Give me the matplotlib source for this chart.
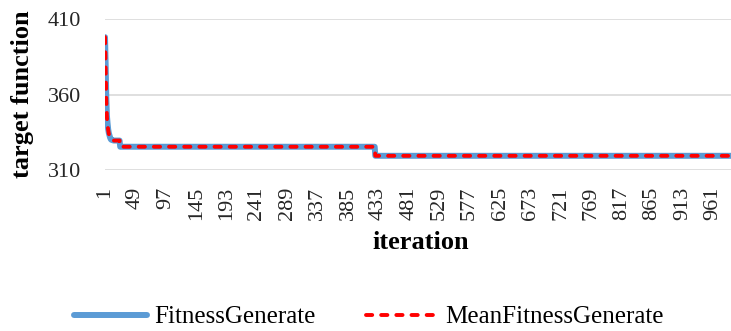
import numpy as np
import matplotlib
matplotlib.use("Agg")
import matplotlib.pyplot as plt

# Best fitness over the first iterations (rapid descent)
early_best = [398.0, 380.0, 358.0, 346.0, 341.0, 337.0, 334.5, 333.0, 331.5, 330.5,
              330.0, 330.0, 329.8, 329.6, 329.5, 329.5, 329.5, 329.5, 329.5, 329.5,
              329.5, 329.5, 329.5, 329.5]
early_mean = [398.0, 378.0, 356.0, 345.0, 340.0, 336.5, 334.0, 332.5, 331.2, 330.4,
              330.0, 329.9, 329.7, 329.6, 329.5, 329.5, 329.5, 329.5, 329.5, 329.5,
              329.5, 329.5, 329.5, 329.5]
# Later plateaus: value and number of iterations it lasts
plateau_values = [325.4, 319.4]
plateau_lengths = [403, 573]

best = np.concatenate([early_best, np.repeat(plateau_values, plateau_lengths)])
mean = np.concatenate([early_mean, np.repeat(plateau_values, plateau_lengths)])
iterations = np.arange(1, len(best) + 1)

tick_labels = [str(v) for v in range(1, 1001, 48)]
y_ticks = [310, 360, 410]

plt.rcParams['font.family'] = ['Liberation Serif', 'DejaVu Serif']

fig = plt.figure(figsize=(7.31, 3.31), dpi=100)
W, H = 731, 331
left, right, top, bottom = 104.7, 737.7, 19, 170
ax = fig.add_axes([left / W, 1 - bottom / H, (right - left) / W, (bottom - top) / H])

ax.plot(iterations, best, color='#5B9BD5', lw=4.3, solid_capstyle='round',
        solid_joinstyle='round', label='FitnessGenerate', zorder=3)
ax.plot(iterations, mean, color='#FF0000', lw=2.8, ls=(0, (1.6, 2.3)),
        dash_capstyle='round', label='MeanFitnessGenerate', zorder=4)

ax.set_xlim(0.5, 1000.5)
ax.set_ylim(310, 410)
ax.set_yticks(y_ticks)
ax.set_xticks(range(1, 1001, 48))
ax.set_xticklabels(tick_labels, rotation=90, fontsize=16, color='#262626')
ax.tick_params(axis='y', labelsize=16, labelcolor='#262626', length=0, pad=17)
ax.tick_params(axis='x', length=0, pad=12)
ax.grid(axis='y', color='#D9D9D9', lw=1.2)
ax.set_axisbelow(True)
for s in ax.spines.values():
    s.set_visible(False)

ax.set_ylabel('target function', fontsize=19, fontweight='bold', labelpad=10)
ax.set_xlabel('iteration', fontsize=19, fontweight='bold', labelpad=8)

fig.legend(loc='center', bbox_to_anchor=(0.505, 1 - 317 / H), ncol=2, frameon=False,
           fontsize=18, handlelength=2.9, columnspacing=2.0, handletextpad=0.3)

fig.savefig('out.png', dpi=100)
